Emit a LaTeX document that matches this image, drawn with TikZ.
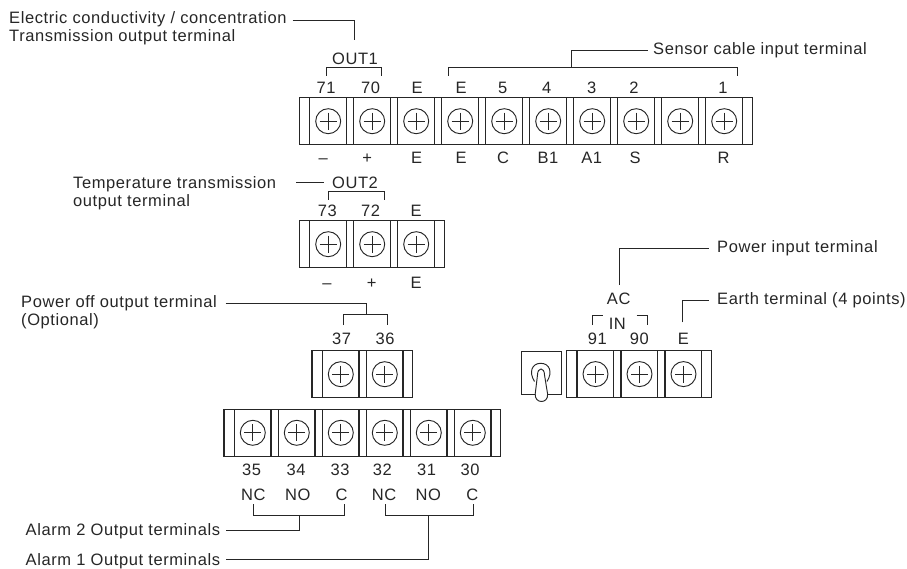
\documentclass[tikz,border=0pt]{standalone}
\usepackage{fontspec}
\setmainfont{Liberation Sans}
\newfontfamily\lblfont[LetterSpace=3.6]{Liberation Sans}
\definecolor{ink}{gray}{0.15}
\tikzset{
  x=1pt,y=-1pt,
  wire/.style={draw=ink,line width=0.95pt},
  body/.style={draw=ink,line width=1.15pt},
  screw/.style={draw=ink,line width=0.95pt},
  lab/.style={font=\lblfont\fontsize{16.5}{18}\selectfont,text=ink,inner sep=0pt,anchor=base},
  leftlab/.style={font=\lblfont\fontsize{16.5}{18}\selectfont,text=ink,inner sep=0pt,anchor=base west},
}
% #1 left, #2 right, #3 top, #4 bottom, #5 first-cell x, #6 last index, #7 name
\newcommand{\tstrip}[7]{%
  \draw[body] (#1,#3) rectangle (#2,#4);
  \foreach \k in {0,...,#6}{%
    \pgfmathsetmacro{\cx}{#5+44*\k}
    \pgfmathsetmacro{\sy}{(#3+#4)/2}
    \draw[body] (\cx,#3) rectangle (\cx+36.7,#4);
    \node[circle,screw,minimum size=25pt,inner sep=0pt] (#7\k) at (\cx+18.5,\sy) {};
    \draw[screw] (\cx+18.5-8.5,\sy) -- (\cx+18.5+8.5,\sy) (\cx+18.5,\sy-8.5) -- (\cx+18.5,\sy+8.5);
  }%
}
\newcommand{\tlab}[4]{\node[lab] (#1) at (#2,#3+5.8) {#4};}
\newcommand{\slab}[4]{\node[leftlab] (#1) at (#2,#3+5.8) {#4};}
\begin{document}
\begin{tikzpicture}
\useasboundingbox (0,0) rectangle (907,569);
\tstrip{299.7}{752.7}{97.7}{144.7}{309.7}{9}{a}
\tstrip{299.7}{444.7}{220.7}{267.7}{309.7}{2}{b}
\tstrip{312}{412.3}{350.7}{397.7}{322.3}{1}{c}
\tstrip{224}{500.3}{409.3}{456.3}{234.3}{5}{d}
\tstrip{566.7}{711.3}{350.7}{397.5}{577}{2}{e}
% switch
\draw[body] (521.7,351.7) rectangle (561.5,394.3);
\draw[screw] (534.5,381.5) .. controls (528.5,372) and (532,363.3) .. (540.7,363.3) .. controls (549.5,363.3) and (553,372) .. (547,381.5);
\draw[screw,fill=white] (537.5,375) .. controls (537.5,367) and (544.5,367) .. (544.5,375) -- (547.6,394) .. controls (548.5,404) and (534.5,404) .. (535.2,394) -- cycle;
% labels top strip
\foreach \n/\x/\t in {p/326/71,q/370.7/70,r/417/E,s/461/E,u/502.7/5,v/546.7/4,w/591.7/3,y/634/2,z/723/1}{\tlab{t\n}{\x}{88}{\t}}
\foreach \n/\x/\t in {p/323.3/–,q/367.3/+,r/416.7/E,s/461/E,u/503/C,v/548/B1,w/591.7/A1,y/635/S,z/723.5/R}{\tlab{m\n}{\x}{157.5}{\t}}
\tlab{outa}{355}{59}{OUT1}
\tlab{outb}{355}{183}{OUT2}
\foreach \n/\x/\t in {p/327.3/73,q/370.7/72,r/416/E}{\tlab{g\n}{\x}{210.7}{\t}}
\foreach \n/\x/\t in {p/327/–,q/371.7/+,r/416/E}{\tlab{h\n}{\x}{283}{\t}}
\tlab{ns}{341.7}{338.3}{37}
\tlab{ss}{385}{338.3}{36}
\foreach \n/\x/\t in {p/251.7/35,q/296/34,r/340/33,s/382.3/32,u/426.7/31,v/470/30}{\tlab{j\n}{\x}{470}{\t}}
\foreach \n/\x/\t in {p/253.3/NC,q/297.7/NO,r/341.7/C,s/384/NC,u/428.3/NO,v/472.3/C}{\tlab{k\n}{\x}{494.3}{\t}}
\tlab{ac}{618.7}{299}{AC}
\tlab{in}{617.3}{323.3}{IN}
\tlab{nine}{597.3}{338.3}{91}
\tlab{ninz}{639.3}{338.3}{90}
\tlab{ee}{683.3}{338.3}{E}
% left/side labels
\slab{L1}{9}{18}{Electric conductivity / concentration}
\slab{L1b}{9}{36}{Transmission output terminal}
\slab{L2}{73}{183}{Temperature transmission}
\slab{L2b}{73}{201}{output terminal}
\slab{L3}{21}{302}{Power off output terminal}
\slab{L3b}{21}{320}{(Optional)}
\slab{L4}{25.5}{530}{Alarm 2 Output terminals}
\slab{L5}{25.5}{560}{Alarm 1 Output terminals}
\slab{R1}{653}{49}{Sensor cable input terminal}
\slab{R2}{717}{247}{Power input terminal}
\slab{R3}{717}{299}{Earth terminal (4 points)}
% connector ends
\coordinate (c1a) at (292.7,20); \coordinate (c1b) at (354.7,40);
\coordinate (o1l) at (326.7,76); \coordinate (o1r) at (381,76);
\coordinate (s1l) at (448,76); \coordinate (s1r) at (737.3,76);
\coordinate (s1m) at (571.7,67.5); \coordinate (s1e) at (648,50);
\coordinate (c2a) at (296,182.5); \coordinate (c2b) at (324,182.5);
\coordinate (o2l) at (328.7,200); \coordinate (o2r) at (384.3,200);
\coordinate (c3a) at (225.7,303.3); \coordinate (c3m) at (366.3,314.3);
\coordinate (b3l) at (343.7,325); \coordinate (b3r) at (387.7,325);
\coordinate (a2l) at (253.7,504.3); \coordinate (a2r) at (344.3,504.3);
\coordinate (a2m) at (299.3,515.7); \coordinate (a2e) at (225.7,530.7);
\coordinate (a1l) at (385.3,504.3); \coordinate (a1r) at (473.3,504.3);
\coordinate (a1m) at (428.7,515.7); \coordinate (a1e) at (225.7,559);
\coordinate (pa) at (619.3,285); \coordinate (pb) at (709.3,248.3);
\coordinate (ea) at (682.7,322.3); \coordinate (eb) at (709.3,300.3);
\coordinate (ila) at (592,325); \coordinate (ilb) at (602.7,315);
\coordinate (ira) at (636.7,315); \coordinate (irb) at (647.7,325);
\draw[wire] (c1a) -| (c1b);
\draw[wire] (o1l) |- (355,67.5) -| (o1r);
\draw[wire] (s1l) |- (s1m) -| (s1r);
\draw[wire] (s1m) |- (s1e);
\draw[wire] (c2a) -- (c2b);
\draw[wire] (o2l) |- (355,191.7) -| (o2r);
\draw[wire] (c3a) -| (c3m);
\draw[wire] (b3l) |- (c3m) -| (b3r);
\draw[wire] (a2l) |- (a2m) -| (a2r);
\draw[wire] (a2m) |- (a2e);
\draw[wire] (a1l) |- (a1m) -| (a1r);
\draw[wire] (a1m) |- (a1e);
\draw[wire] (pa) |- (pb);
\draw[wire] (ea) |- (eb);
\draw[wire] (ila) |- (ilb);
\draw[wire] (ira) -| (irb);
\end{tikzpicture}
\end{document}
